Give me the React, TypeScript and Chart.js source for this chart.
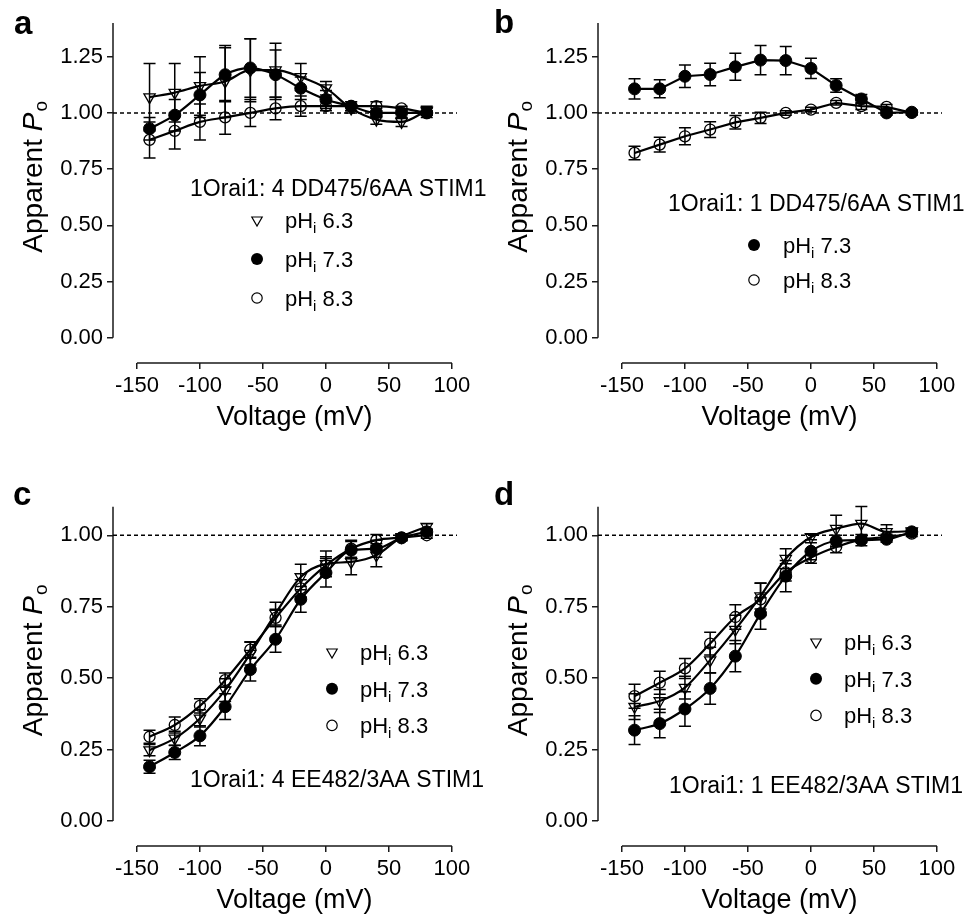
import React, { useEffect, useRef } from 'react';
import { Chart, registerables } from 'chart.js';

Chart.register(...registerables);

const FONT = '"Liberation Sans", Arial, Helvetica, sans-serif';

// ---------------- data ----------------
const voltage = [-140, -120, -100, -80, -60, -40, -20, 0, 20, 40, 60, 80];
const xTickValues = [-150, -100, -50, 0, 50, 100];
const xAxisRange = [-169, 104];
const yTickValuesTop = [0, 0.25, 0.5, 0.75, 1.0, 1.25];
const yTickValuesBottom = [0, 0.25, 0.5, 0.75, 1.0];
const yRangeTop = [-0.1125, 1.4];
const yRangeBottom = [-0.0874, 1.1];
const referenceLevel = 1.0;

// panel a : 1Orai1: 4 DD475/6AA STIM1
const aPh63 = [1.07, 1.09, 1.12, 1.14, 1.19, 1.19, 1.16, 1.11, 1.02, 0.97, 0.96, 1.01];
const aPh63Err = [0.15, 0.13, 0.13, 0.16, 0.14, 0.12, 0.06, 0.03, 0.02, 0.02, 0.02, 0.02];
const aPh73 = [0.93, 0.99, 1.08, 1.17, 1.2, 1.17, 1.11, 1.06, 1.03, 1.0, 1.0, 1.0];
const aPh73Err = [0.05, 0.07, 0.1, 0.12, 0.13, 0.11, 0.05, 0.04, 0.02, 0.02, 0.02, 0.02];
const aPh83 = [0.88, 0.92, 0.96, 0.98, 1.0, 1.02, 1.03, 1.03, 1.03, 1.03, 1.02, 1.0];
const aPh83Err = [0.08, 0.08, 0.08, 0.075, 0.06, 0.05, 0.045, 0.02, 0.02, 0.02, 0.01, 0.01];

// panel b : 1Orai1: 1 DD475/6AA STIM1
const bPh73 = [1.107, 1.107, 1.163, 1.171, 1.205, 1.235, 1.233, 1.198, 1.122, 1.062, 1.0, 1.003];
const bPh73Err = [0.045, 0.04, 0.05, 0.05, 0.06, 0.065, 0.063, 0.045, 0.03, 0.02, 0.01, 0.01];
const bPh83 = [0.822, 0.859, 0.896, 0.926, 0.958, 0.978, 1.0, 1.015, 1.045, 1.03, 1.027, 1.0];
const bPh83Err = [0.03, 0.033, 0.038, 0.035, 0.03, 0.025, 0.01, 0.01, 0.01, 0.015, 0.01, 0.01];

// panel c : 1Orai1: 4 EE482/3AA STIM1
const cPh63 = [0.248, 0.289, 0.359, 0.458, 0.586, 0.726, 0.854, 0.9, 0.907, 0.93, 0.994, 1.03];
const cPh63Err = [0.02, 0.025, 0.03, 0.04, 0.04, 0.04, 0.045, 0.045, 0.045, 0.04, 0.01, 0.01];
const cPh73 = [0.19, 0.24, 0.298, 0.4, 0.53, 0.636, 0.776, 0.869, 0.948, 0.953, 0.991, 1.012];
const cPh73Err = [0.023, 0.025, 0.035, 0.045, 0.04, 0.045, 0.045, 0.05, 0.03, 0.03, 0.01, 0.01];
const cPh83 = [0.295, 0.336, 0.403, 0.493, 0.6, 0.711, 0.814, 0.895, 0.953, 0.983, 0.992, 1.0];
const cPh83Err = [0.023, 0.028, 0.025, 0.025, 0.027, 0.03, 0.03, 0.03, 0.03, 0.02, 0.01, 0.01];

// panel d : 1Orai1: 1 EE482/3AA STIM1
const dPh63 = [0.4, 0.42, 0.467, 0.563, 0.67, 0.787, 0.918, 0.994, 1.023, 1.041, 1.012, 1.014];
const dPh63Err = [0.045, 0.04, 0.04, 0.045, 0.05, 0.045, 0.035, 0.01, 0.047, 0.06, 0.025, 0.01];
const dPh73 = [0.318, 0.341, 0.392, 0.464, 0.577, 0.726, 0.857, 0.944, 0.98, 0.983, 0.986, 1.012];
const dPh73Err = [0.05, 0.05, 0.06, 0.055, 0.055, 0.055, 0.055, 0.03, 0.02, 0.02, 0.01, 0.01];
const dPh83 = [0.437, 0.484, 0.534, 0.621, 0.714, 0.776, 0.87, 0.922, 0.959, 0.985, 0.994, 1.006];
const dPh83Err = [0.042, 0.04, 0.035, 0.04, 0.043, 0.057, 0.03, 0.02, 0.02, 0.01, 0.01, 0.01];

// ---------------- layout ----------------
const CHART_LEFT = 113;
const CHART_RIGHT = 457;

type Kind = 'tri' | 'filled' | 'open';
interface Series { ph: string; kind: Kind; values: number[]; errors: number[]; order: number }
interface PanelCfg {
  letter: string; left: number; top: number; width: number; height: number;
  chartTop: number; chartBottom: number; yRange: number[]; yTicks: number[];
  smooth: boolean; series: Series[];
  legend: { mx: number; tx: number; y0: number; dy: number };
  note: { text: string; x: number; y: number };
  letterPos: { x: number; y: number };
}

const panels: PanelCfg[] = [
  {
    letter: 'a', left: 0, top: 0, width: 500, height: 440, chartTop: 23, chartBottom: 363,
    yRange: yRangeTop, yTicks: yTickValuesTop, smooth: true,
    series: [
      { ph: '6.3', kind: 'tri', values: aPh63, errors: aPh63Err, order: 1 },
      { ph: '7.3', kind: 'filled', values: aPh73, errors: aPh73Err, order: 0 },
      { ph: '8.3', kind: 'open', values: aPh83, errors: aPh83Err, order: 2 },
    ],
    legend: { mx: 257, tx: 285, y0: 220, dy: 39 },
    note: { text: '1Orai1: 4 DD475/6AA STIM1', x: 190, y: 196 },
    letterPos: { x: 14, y: 34 },
  },
  {
    letter: 'b', left: 485, top: 0, width: 488, height: 440, chartTop: 23, chartBottom: 363,
    yRange: yRangeTop, yTicks: yTickValuesTop, smooth: false,
    series: [
      { ph: '7.3', kind: 'filled', values: bPh73, errors: bPh73Err, order: 0 },
      { ph: '8.3', kind: 'open', values: bPh83, errors: bPh83Err, order: 1 },
    ],
    legend: { mx: 269, tx: 298, y0: 245, dy: 35 },
    note: { text: '1Orai1: 1 DD475/6AA STIM1', x: 183, y: 211 },
    letterPos: { x: 9, y: 33 },
  },
  {
    letter: 'c', left: 0, top: 440, width: 500, height: 475, chartTop: 66.7, chartBottom: 406,
    yRange: yRangeBottom, yTicks: yTickValuesBottom, smooth: true,
    series: [
      { ph: '6.3', kind: 'tri', values: cPh63, errors: cPh63Err, order: 1 },
      { ph: '7.3', kind: 'filled', values: cPh73, errors: cPh73Err, order: 0 },
      { ph: '8.3', kind: 'open', values: cPh83, errors: cPh83Err, order: 2 },
    ],
    legend: { mx: 332, tx: 360, y0: 212, dy: 36.7 },
    note: { text: '1Orai1: 4 EE482/3AA STIM1', x: 190, y: 347 },
    letterPos: { x: 13, y: 65 },
  },
  {
    letter: 'd', left: 485, top: 440, width: 488, height: 475, chartTop: 66.7, chartBottom: 406,
    yRange: yRangeBottom, yTicks: yTickValuesBottom, smooth: true,
    series: [
      { ph: '6.3', kind: 'tri', values: dPh63, errors: dPh63Err, order: 1 },
      { ph: '7.3', kind: 'filled', values: dPh73, errors: dPh73Err, order: 0 },
      { ph: '8.3', kind: 'open', values: dPh83, errors: dPh83Err, order: 2 },
    ],
    legend: { mx: 331, tx: 359, y0: 202, dy: 36.7 },
    note: { text: '1Orai1: 1 EE482/3AA STIM1', x: 184, y: 353 },
    letterPos: { x: 9, y: 65 },
  },
];

function drawMarker(ctx: CanvasRenderingContext2D, kind: Kind, x: number, y: number) {
  ctx.save();
  ctx.strokeStyle = '#000';
  ctx.lineWidth = 1.2;
  ctx.beginPath();
  if (kind === 'filled') {
    ctx.fillStyle = '#000';
    ctx.arc(x, y, 6, 0, Math.PI * 2);
    ctx.fill();
  } else if (kind === 'open') {
    ctx.arc(x, y, 5.2, 0, Math.PI * 2);
    ctx.stroke();
  } else {
    const r = 6;
    ctx.moveTo(x - r * Math.sin(Math.PI / 3), y - r / 2);
    ctx.lineTo(x + r * Math.sin(Math.PI / 3), y - r / 2);
    ctx.lineTo(x, y + r);
    ctx.closePath();
    ctx.stroke();
  }
  ctx.restore();
}

function makeDecor(cfg: PanelCfg) {
  return {
    id: 'decor_' + cfg.letter,
    beforeDatasetsDraw(chart: any) {
      const { ctx, chartArea } = chart;
      const x = chart.scales.x;
      const y = chart.scales.y;
      ctx.save();
      ctx.strokeStyle = '#1a1a1a';
      ctx.lineWidth = 1.5;
      ctx.beginPath();
      ctx.moveTo(chartArea.left, y.getPixelForValue(cfg.yRange[1]));
      ctx.lineTo(chartArea.left, y.getPixelForValue(0));
      ctx.moveTo(x.getPixelForValue(xTickValues[0]), chartArea.bottom);
      ctx.lineTo(x.getPixelForValue(xTickValues[xTickValues.length - 1]), chartArea.bottom);
      ctx.stroke();
      // error bars (drawn beneath the markers)
      ctx.strokeStyle = '#000';
      ctx.lineWidth = 1.5;
      cfg.series.forEach((s) => {
        s.values.forEach((v, j) => {
          const e = s.errors[j];
          if (!e) return;
          const px = x.getPixelForValue(voltage[j]);
          const t = y.getPixelForValue(v + e);
          const b = y.getPixelForValue(v - e);
          ctx.beginPath();
          ctx.moveTo(px, t);
          ctx.lineTo(px, b);
          ctx.moveTo(px - 6, t);
          ctx.lineTo(px + 6, t);
          ctx.moveTo(px - 6, b);
          ctx.lineTo(px + 6, b);
          ctx.stroke();
        });
      });
      ctx.restore();
    },
    afterDraw(chart: any) {
      const { ctx, chartArea } = chart;
      const x = chart.scales.x;
      const y = chart.scales.y;
      ctx.save();
      ctx.fillStyle = '#000';
      ctx.textBaseline = 'alphabetic';

      // y-axis title: Apparent P(italic) o(subscript)
      const cy = (y.getPixelForValue(0) + y.getPixelForValue(cfg.yRange[1])) / 2 - 3;
      ctx.save();
      ctx.translate(42, cy);
      ctx.rotate(-Math.PI / 2);
      ctx.font = `28px ${FONT}`;
      const w1 = ctx.measureText('Apparent ').width;
      ctx.font = `italic 28px ${FONT}`;
      const w2 = ctx.measureText('P').width;
      ctx.font = `19px ${FONT}`;
      const w3 = ctx.measureText('o').width;
      const start = -(w1 + w2 + w3) / 2;
      ctx.textAlign = 'left';
      ctx.font = `28px ${FONT}`;
      ctx.fillText('Apparent ', start, 0);
      ctx.font = `italic 28px ${FONT}`;
      ctx.fillText('P', start + w1, 0);
      ctx.font = `19px ${FONT}`;
      ctx.fillText('o', start + w1 + w2 + 1, 5);
      ctx.restore();

      // x-axis title
      ctx.font = `27px ${FONT}`;
      ctx.textAlign = 'center';
      const xc = x.getPixelForValue((xTickValues[0] + xTickValues[xTickValues.length - 1]) / 2);
      ctx.fillText('Voltage (mV)', xc, chartArea.bottom + 62);

      // legend
      ctx.textAlign = 'left';
      cfg.series.forEach((s, i) => {
        const ry = cfg.legend.y0 + i * cfg.legend.dy;
        drawMarker(ctx, s.kind, cfg.legend.mx, ry);
        const ty = ry + 8;
        ctx.font = `22px ${FONT}`;
        ctx.fillText('pH', cfg.legend.tx, ty);
        const wa = ctx.measureText('pH').width;
        ctx.font = `15px ${FONT}`;
        ctx.fillText('i', cfg.legend.tx + wa, ty + 5);
        const wb = ctx.measureText('i').width;
        ctx.font = `22px ${FONT}`;
        ctx.fillText(' ' + s.ph, cfg.legend.tx + wa + wb, ty);
      });

      // construct label
      ctx.font = `23px ${FONT}`;
      ctx.fillText(cfg.note.text, cfg.note.x, cfg.note.y);

      // panel letter
      ctx.font = `bold 33px ${FONT}`;
      ctx.fillText(cfg.letter, cfg.letterPos.x, cfg.letterPos.y);
      ctx.restore();
    },
  };
}

function buildConfig(cfg: PanelCfg): any {
  const datasets: any[] = cfg.series.map((s) => ({
    label: 'pHi ' + s.ph,
    data: voltage.map((v, j) => ({ x: v, y: s.values[j] })),
    order: s.order,
    borderColor: '#000',
    borderWidth: 2.2,
    backgroundColor: s.kind === 'filled' ? '#000' : 'rgba(0,0,0,0)',
    pointBackgroundColor: s.kind === 'filled' ? '#000' : 'rgba(0,0,0,0)',
    pointBorderColor: '#000',
    pointBorderWidth: s.kind === 'filled' ? 1 : 1.3,
    pointStyle: s.kind === 'tri' ? 'triangle' : 'circle',
    pointRotation: s.kind === 'tri' ? 180 : 0,
    pointRadius: s.kind === 'tri' ? 6.5 : s.kind === 'filled' ? 6 : 5.5,
    fill: false,
    tension: cfg.smooth ? 0.4 : 0,
    cubicInterpolationMode: cfg.smooth ? 'monotone' : 'default',
  }));
  datasets.push({
    label: 'reference',
    data: xAxisRange.map((v) => ({ x: v, y: referenceLevel })),
    order: 10,
    borderColor: '#000',
    borderWidth: 1.5,
    borderDash: [4, 3],
    pointRadius: 0,
    fill: false,
  });

  return {
    type: 'line',
    data: { datasets },
    options: {
      responsive: false,
      maintainAspectRatio: false,
      animation: false,
      events: [],
      devicePixelRatio: 1,
      layout: { padding: { left: 0, top: cfg.chartTop, right: cfg.width - CHART_RIGHT, bottom: 0 } },
      plugins: { legend: { display: false }, tooltip: { enabled: false }, title: { display: false } },
      scales: {
        x: {
          type: 'linear',
          min: xAxisRange[0],
          max: xAxisRange[1],
          afterBuildTicks: (s: any) => { s.ticks = xTickValues.map((v) => ({ value: v })); },
          afterFit: (s: any) => { s.height = cfg.height - cfg.chartBottom; },
          border: { display: false },
          grid: { drawOnChartArea: false, drawTicks: true, tickLength: 6, color: '#1a1a1a', lineWidth: 1.5 },
          ticks: {
            autoSkip: false, maxRotation: 0, padding: 4, color: '#000',
            font: { family: FONT, size: 22 },
            callback: (v: any) => String(v),
          },
        },
        y: {
          type: 'linear',
          min: cfg.yRange[0],
          max: cfg.yRange[1],
          afterBuildTicks: (s: any) => { s.ticks = cfg.yTicks.map((v) => ({ value: v })); },
          afterFit: (s: any) => { s.width = CHART_LEFT; },
          border: { display: false },
          grid: { drawOnChartArea: false, drawTicks: true, tickLength: 6, color: '#1a1a1a', lineWidth: 1.5 },
          ticks: {
            autoSkip: false, padding: 4, color: '#000',
            font: { family: FONT, size: 22 },
            callback: (v: any) => Number(v).toFixed(2),
          },
        },
      },
    },
    plugins: [makeDecor(cfg)],
  };
}

function Panel({ cfg }: { cfg: PanelCfg }) {
  const ref = useRef<HTMLCanvasElement>(null);
  useEffect(() => {
    if (!ref.current) return;
    const chart = new Chart(ref.current, buildConfig(cfg));
    return () => chart.destroy();
  }, [cfg]);
  return (
    <canvas
      ref={ref}
      width={cfg.width}
      height={cfg.height}
      style={{ position: 'absolute', left: cfg.left, top: cfg.top, width: cfg.width, height: cfg.height }}
    />
  );
}

export default function App() {
  return (
    <div style={{ position: 'absolute', left: 0, top: 0, width: 973, height: 915, background: '#fff', overflow: 'hidden' }}>
      {panels.map((p) => (
        <Panel key={p.letter} cfg={p} />
      ))}
    </div>
  );
}
